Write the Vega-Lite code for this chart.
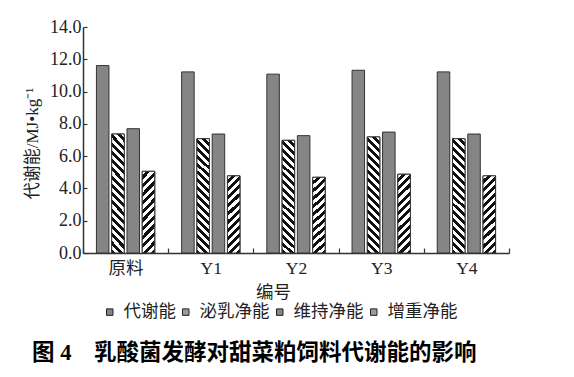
{
  "$schema": "https://vega.github.io/schema/vega-lite/v6.json",
  "autosize": {"type": "none"},
  "width": 426,
  "height": 226,
  "padding": {"left": 83, "top": 27, "right": 65, "bottom": 124},
  "background": "#ffffff",
  "config": {
    "view": {"stroke": null},
    "font": "Liberation Serif, Noto Sans CJK SC",
    "axis": {"labelFont": "Liberation Serif, Noto Sans CJK SC", "titleFont": "Liberation Serif, Noto Sans CJK SC", "labelColor": "#222", "titleColor": "#222", "domainColor": "#333", "tickColor": "#333", "domainWidth": 1.5, "tickWidth": 1.2, "grid": false, "titleFontWeight": "normal"}
  },
  "title": {
    "text": "图\u00a04\u00a0\u00a0\u00a0\u00a0乳酸菌发酵对甜菜粕饲料代谢能的影响",
    "orient": "bottom",
    "anchor": "start",
    "frame": "group",
    "dx": -51,
    "offset": 21,
    "font": "Liberation Serif, Noto Sans CJK SC",
    "fontSize": 22.5,
    "fontWeight": "bold",
    "color": "#000"
  },
  "data": {
    "values": [
      {"group": "原料", "series": "代谢能", "value": 11.61},
      {"group": "原料", "series": "泌乳净能", "value": 7.37},
      {"group": "原料", "series": "维持净能", "value": 7.70},
      {"group": "原料", "series": "增重净能", "value": 5.06},
      {"group": "Y1", "series": "代谢能", "value": 11.22},
      {"group": "Y1", "series": "泌乳净能", "value": 7.08},
      {"group": "Y1", "series": "维持净能", "value": 7.37},
      {"group": "Y1", "series": "增重净能", "value": 4.78},
      {"group": "Y2", "series": "代谢能", "value": 11.08},
      {"group": "Y2", "series": "泌乳净能", "value": 6.98},
      {"group": "Y2", "series": "维持净能", "value": 7.27},
      {"group": "Y2", "series": "增重净能", "value": 4.69},
      {"group": "Y3", "series": "代谢能", "value": 11.32},
      {"group": "Y3", "series": "泌乳净能", "value": 7.19},
      {"group": "Y3", "series": "维持净能", "value": 7.49},
      {"group": "Y3", "series": "增重净能", "value": 4.88},
      {"group": "Y4", "series": "代谢能", "value": 11.22},
      {"group": "Y4", "series": "泌乳净能", "value": 7.08},
      {"group": "Y4", "series": "维持净能", "value": 7.37},
      {"group": "Y4", "series": "增重净能", "value": 4.78}
    ]
  },
  "encoding": {
    "x": {
      "field": "group",
      "type": "nominal",
      "sort": ["原料", "Y1", "Y2", "Y3", "Y4"],
      "scale": {"domain": ["原料", "Y1", "Y2", "Y3", "Y4"], "paddingInner": 0, "paddingOuter": 0},
      "axis": {
        "title": "编号",
        "titleFontSize": 17.5,
        "titleX": 190,
        "titleY": 39,
        "titleBaseline": "middle",
        "titleAlign": "center",
        "labelFontSize": 17.5,
        "labelAngle": 0,
        "labelPadding": 11,
        "tickBand": "extent",
        "tickSize": -5
      }
    },
    "xOffset": {
      "field": "series",
      "type": "nominal",
      "scale": {"domain": ["代谢能", "泌乳净能", "维持净能", "增重净能"], "paddingInner": 0.18, "paddingOuter": 0.88}
    },
    "y": {
      "field": "value",
      "type": "quantitative",
      "scale": {"domain": [0, 14], "nice": false},
      "axis": {
        "title": "代谢能/MJ•kg⁻¹",
        "titleFontSize": 17,
        "titleX": -51,
        "titleY": 116,
        "titleAngle": 270,
        "titleBaseline": "middle",
        "titleAlign": "center",
        "values": [0, 2, 4, 6, 8, 10, 12, 14],
        "format": ".1f",
        "labelFontSize": 18,
        "labelPadding": 6,
        "tickSize": -4
      }
    }
  },
  "layer": [
    {
      "mark": {"type": "bar", "stroke": "#333", "strokeWidth": 1},
      "encoding": {
        "fill": {
          "field": "series",
          "type": "nominal",
          "scale": {"domain": ["代谢能", "泌乳净能", "维持净能", "增重净能"], "range": ["#858585", "#9a9a9a", "#858585", "#9a9a9a"]},
          "legend": {
            "title": null,
            "orient": "none",
            "direction": "horizontal",
            "legendX": 18,
            "legendY": 276,
            "padding": 0,
            "symbolType": "square",
            "symbolSize": 42,
            "symbolStrokeColor": "#222",
            "symbolStrokeWidth": 1,
            "labelFont": "Liberation Serif, Noto Sans CJK SC",
            "labelFontSize": 17.5,
            "labelColor": "#222",
            "labelOffset": 5,
            "columnPadding": 1
          }
        }
      }
    },
    {
      "transform": [{"filter": "datum.series === '泌乳净能'"}],
      "mark": {
        "type": "bar",
        "stroke": "#333",
        "strokeWidth": 1,
        "fill": {
          "gradient": "linear",
          "x1": 1, "y1": 0, "x2": 0.882, "y2": 1.095,
          "stops": [
            {"offset": 0, "color": "#fff"},
            {"offset": 0.0313, "color": "#fff"}, {"offset": 0.0313, "color": "#111"},
            {"offset": 0.0625, "color": "#111"}, {"offset": 0.0625, "color": "#fff"},
            {"offset": 0.0938, "color": "#fff"}, {"offset": 0.0938, "color": "#111"},
            {"offset": 0.125, "color": "#111"}, {"offset": 0.125, "color": "#fff"},
            {"offset": 0.1563, "color": "#fff"}, {"offset": 0.1563, "color": "#111"},
            {"offset": 0.1875, "color": "#111"}, {"offset": 0.1875, "color": "#fff"},
            {"offset": 0.2188, "color": "#fff"}, {"offset": 0.2188, "color": "#111"},
            {"offset": 0.25, "color": "#111"}, {"offset": 0.25, "color": "#fff"},
            {"offset": 0.2813, "color": "#fff"}, {"offset": 0.2813, "color": "#111"},
            {"offset": 0.3125, "color": "#111"}, {"offset": 0.3125, "color": "#fff"},
            {"offset": 0.3438, "color": "#fff"}, {"offset": 0.3438, "color": "#111"},
            {"offset": 0.375, "color": "#111"}, {"offset": 0.375, "color": "#fff"},
            {"offset": 0.4063, "color": "#fff"}, {"offset": 0.4063, "color": "#111"},
            {"offset": 0.4375, "color": "#111"}, {"offset": 0.4375, "color": "#fff"},
            {"offset": 0.4688, "color": "#fff"}, {"offset": 0.4688, "color": "#111"},
            {"offset": 0.5, "color": "#111"}, {"offset": 0.5, "color": "#fff"},
            {"offset": 0.5313, "color": "#fff"}, {"offset": 0.5313, "color": "#111"},
            {"offset": 0.5625, "color": "#111"}, {"offset": 0.5625, "color": "#fff"},
            {"offset": 0.5938, "color": "#fff"}, {"offset": 0.5938, "color": "#111"},
            {"offset": 0.625, "color": "#111"}, {"offset": 0.625, "color": "#fff"},
            {"offset": 0.6563, "color": "#fff"}, {"offset": 0.6563, "color": "#111"},
            {"offset": 0.6875, "color": "#111"}, {"offset": 0.6875, "color": "#fff"},
            {"offset": 0.7188, "color": "#fff"}, {"offset": 0.7188, "color": "#111"},
            {"offset": 0.75, "color": "#111"}, {"offset": 0.75, "color": "#fff"},
            {"offset": 0.7813, "color": "#fff"}, {"offset": 0.7813, "color": "#111"},
            {"offset": 0.8125, "color": "#111"}, {"offset": 0.8125, "color": "#fff"},
            {"offset": 0.8438, "color": "#fff"}, {"offset": 0.8438, "color": "#111"},
            {"offset": 0.875, "color": "#111"}, {"offset": 0.875, "color": "#fff"},
            {"offset": 0.9063, "color": "#fff"}, {"offset": 0.9063, "color": "#111"},
            {"offset": 0.9375, "color": "#111"}, {"offset": 0.9375, "color": "#fff"},
            {"offset": 0.9688, "color": "#fff"}, {"offset": 0.9688, "color": "#111"},
            {"offset": 1, "color": "#111"}
          ]
        }
      }
    },
    {
      "transform": [{"filter": "datum.series === '增重净能'"}],
      "mark": {
        "type": "bar",
        "stroke": "#333",
        "strokeWidth": 1,
        "fill": {
          "gradient": "linear",
          "x1": 0, "y1": 0, "x2": 0.1785, "y2": 1.13,
          "stops": [
            {"offset": 0, "color": "#fff"},
            {"offset": 0.0455, "color": "#fff"}, {"offset": 0.0455, "color": "#111"},
            {"offset": 0.0909, "color": "#111"}, {"offset": 0.0909, "color": "#fff"},
            {"offset": 0.1364, "color": "#fff"}, {"offset": 0.1364, "color": "#111"},
            {"offset": 0.1818, "color": "#111"}, {"offset": 0.1818, "color": "#fff"},
            {"offset": 0.2273, "color": "#fff"}, {"offset": 0.2273, "color": "#111"},
            {"offset": 0.2727, "color": "#111"}, {"offset": 0.2727, "color": "#fff"},
            {"offset": 0.3182, "color": "#fff"}, {"offset": 0.3182, "color": "#111"},
            {"offset": 0.3636, "color": "#111"}, {"offset": 0.3636, "color": "#fff"},
            {"offset": 0.4091, "color": "#fff"}, {"offset": 0.4091, "color": "#111"},
            {"offset": 0.4545, "color": "#111"}, {"offset": 0.4545, "color": "#fff"},
            {"offset": 0.5, "color": "#fff"}, {"offset": 0.5, "color": "#111"},
            {"offset": 0.5455, "color": "#111"}, {"offset": 0.5455, "color": "#fff"},
            {"offset": 0.5909, "color": "#fff"}, {"offset": 0.5909, "color": "#111"},
            {"offset": 0.6364, "color": "#111"}, {"offset": 0.6364, "color": "#fff"},
            {"offset": 0.6818, "color": "#fff"}, {"offset": 0.6818, "color": "#111"},
            {"offset": 0.7273, "color": "#111"}, {"offset": 0.7273, "color": "#fff"},
            {"offset": 0.7727, "color": "#fff"}, {"offset": 0.7727, "color": "#111"},
            {"offset": 0.8182, "color": "#111"}, {"offset": 0.8182, "color": "#fff"},
            {"offset": 0.8636, "color": "#fff"}, {"offset": 0.8636, "color": "#111"},
            {"offset": 0.9091, "color": "#111"}, {"offset": 0.9091, "color": "#fff"},
            {"offset": 0.9545, "color": "#fff"}, {"offset": 0.9545, "color": "#111"},
            {"offset": 1, "color": "#111"}
          ]
        }
      }
    }
  ]
}
